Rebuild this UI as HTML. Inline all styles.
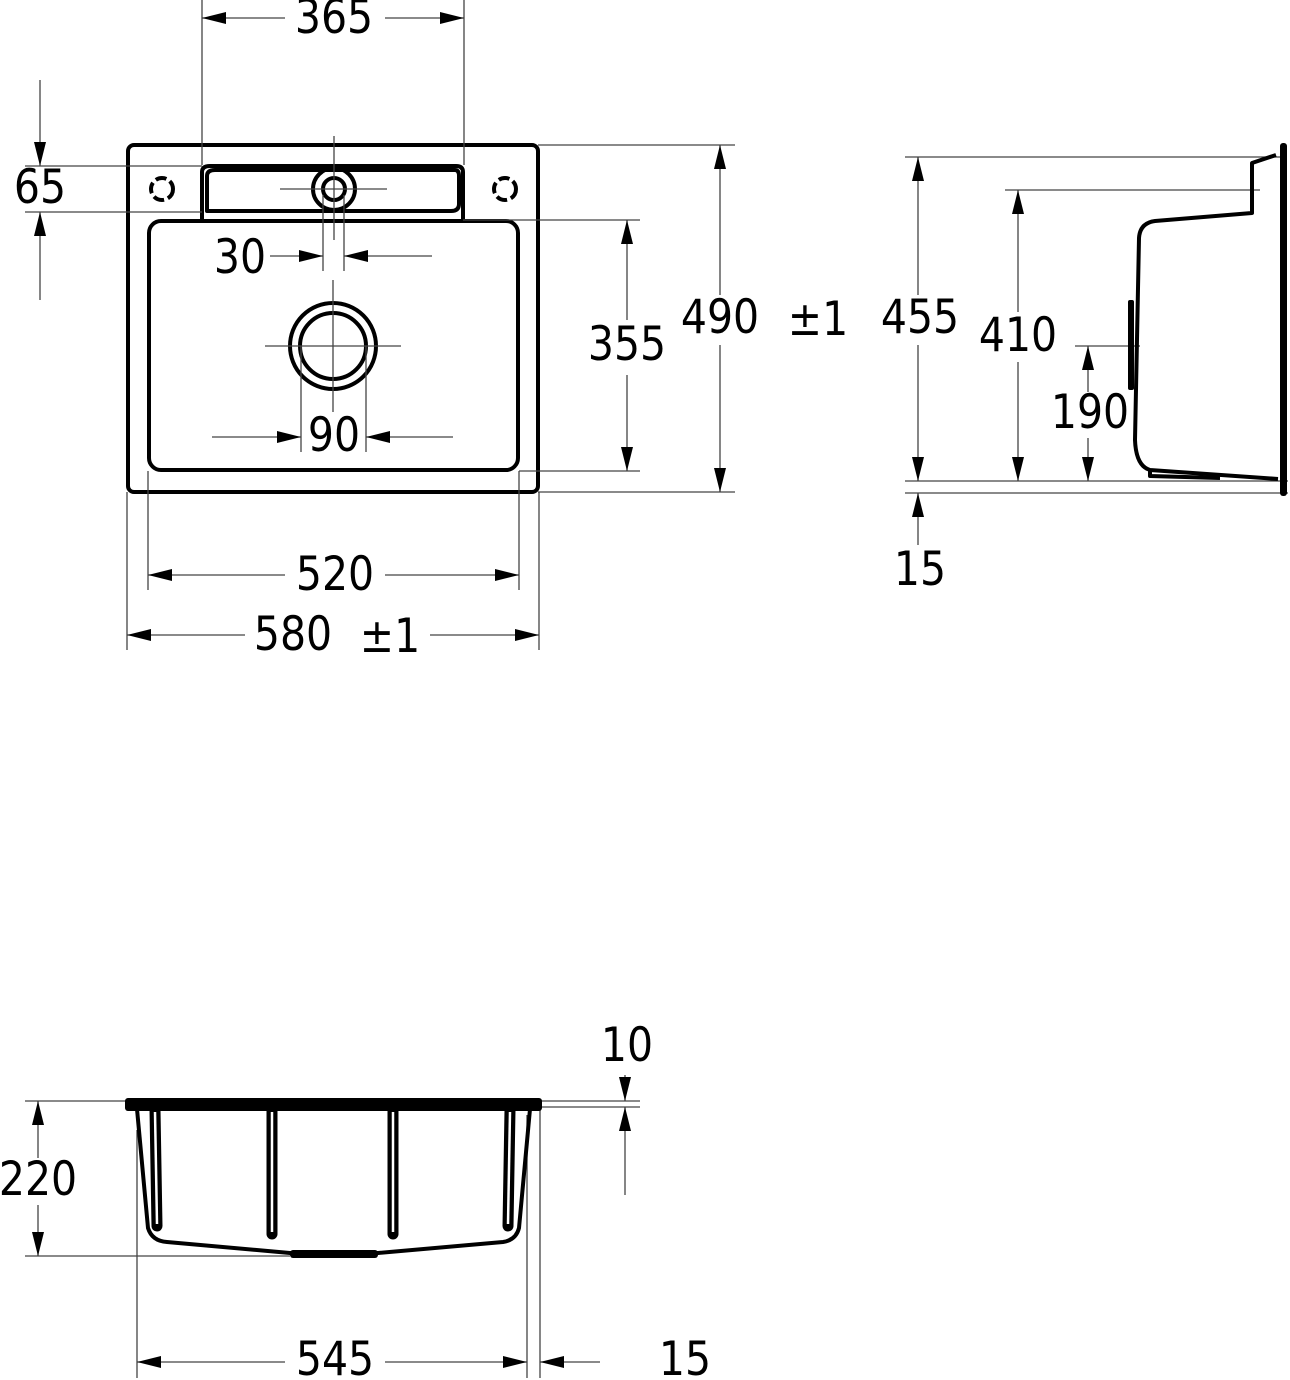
<!DOCTYPE html>
<html><head><meta charset="utf-8"><style>
html,body{margin:0;padding:0;background:#fff;}
svg{display:block}
text{font-family:"DejaVu Sans","Liberation Sans",sans-serif;font-size:41px;fill:#000;text-anchor:middle;dominant-baseline:middle;transform-box:fill-box;transform-origin:center;transform:scaleY(1.16)}
.d{stroke:#444;stroke-width:1.3;fill:none}
.o{stroke:#000;stroke-width:4;fill:none;stroke-linejoin:round}
</style></head><body>
<svg width="1290" height="1380" viewBox="0 0 1290 1380" xmlns="http://www.w3.org/2000/svg">
<defs>
<marker id="a" viewBox="0 0 24 12" refX="24" refY="6" markerWidth="24" markerHeight="12" markerUnits="userSpaceOnUse" orient="auto"><path d="M0,0L24,6L0,12z" fill="#000"/></marker>
</defs>
<!-- TOP VIEW -->
<rect x="128" y="145" width="410" height="347" rx="6" class="o"/>
<path d="M202,222 V172 Q202,166 210,166 H456 Q463,166 463,172 V222" class="o"/>
<path d="M207,211 V176 Q207,170 215,170 H455 Q459,170 459,176 V204 Q459,211 451,211 Z" class="o" stroke-width="3.5"/>
<rect x="149" y="221" width="369" height="249" rx="12" class="o"/>
<circle cx="334" cy="189" r="21" class="o" fill="#fff"/>
<circle cx="334" cy="189" r="11" class="o" stroke-width="3"/>
<circle cx="162" cy="189" r="11" class="o" stroke-width="4.5" stroke-dasharray="11 4"/>
<circle cx="505" cy="189" r="11" class="o" stroke-width="4.5" stroke-dasharray="11 4"/>
<circle cx="333" cy="346" r="43" class="o"/>
<circle cx="333" cy="346" r="33" class="o"/>
<g class="d">
<line x1="334" y1="136" x2="334" y2="240"/><line x1="280" y1="189" x2="387" y2="189"/>
<line x1="333" y1="280" x2="333" y2="412"/><line x1="265" y1="346" x2="401" y2="346"/>
<line x1="202" y1="0" x2="202" y2="165"/><line x1="464" y1="0" x2="464" y2="165"/>
<line x1="285" y1="18" x2="202" y2="18" marker-end="url(#a)"/><line x1="385" y1="18" x2="464" y2="18" marker-end="url(#a)"/>
<line x1="40" y1="80" x2="40" y2="166" marker-end="url(#a)"/><line x1="40" y1="300" x2="40" y2="212" marker-end="url(#a)"/>
<line x1="25" y1="166" x2="202" y2="166"/><line x1="25" y1="212" x2="202" y2="212"/>
<line x1="323" y1="195" x2="323" y2="271"/><line x1="344" y1="195" x2="344" y2="271"/>
<line x1="270" y1="256" x2="323" y2="256" marker-end="url(#a)"/><line x1="432" y1="256" x2="344" y2="256" marker-end="url(#a)"/>
<line x1="301" y1="346" x2="301" y2="452"/><line x1="366" y1="346" x2="366" y2="452"/>
<line x1="212" y1="437" x2="301" y2="437" marker-end="url(#a)"/><line x1="453" y1="437" x2="366" y2="437" marker-end="url(#a)"/>
<line x1="463" y1="220" x2="640" y2="220"/><line x1="519" y1="471" x2="640" y2="471"/>
<line x1="627" y1="320" x2="627" y2="220" marker-end="url(#a)"/><line x1="627" y1="375" x2="627" y2="471" marker-end="url(#a)"/>
<line x1="538" y1="145" x2="735" y2="145"/><line x1="538" y1="492" x2="735" y2="492"/>
<line x1="720" y1="295" x2="720" y2="145" marker-end="url(#a)"/><line x1="720" y1="345" x2="720" y2="492" marker-end="url(#a)"/>
<line x1="148" y1="471" x2="148" y2="590"/><line x1="519" y1="471" x2="519" y2="590"/>
<line x1="285" y1="575" x2="148" y2="575" marker-end="url(#a)"/><line x1="385" y1="575" x2="519" y2="575" marker-end="url(#a)"/>
<line x1="127" y1="492" x2="127" y2="650"/><line x1="539" y1="492" x2="539" y2="650"/>
<line x1="245" y1="635" x2="127" y2="635" marker-end="url(#a)"/><line x1="430" y1="635" x2="539" y2="635" marker-end="url(#a)"/>
</g>
<text x="334" y="20">365</text>
<text x="40" y="190">65</text>
<text x="240" y="260">30</text>
<text x="334" y="438">90</text>
<text x="627" y="347">355</text>
<text x="720" y="320">490</text>
<text x="818" y="322" font-size="34">±1</text>
<text x="335" y="577">520</text>
<text x="293" y="637">580</text>
<text x="390" y="639" font-size="34">±1</text>
<!-- SIDE VIEW -->
<g class="d">
<line x1="905" y1="157" x2="1280" y2="157"/><line x1="1005" y1="190" x2="1260" y2="190"/>
<line x1="1075" y1="346" x2="1140" y2="346"/>
<line x1="905" y1="481" x2="1288" y2="481"/><line x1="905" y1="493" x2="1288" y2="493"/>
<line x1="918" y1="295" x2="918" y2="157" marker-end="url(#a)"/><line x1="918" y1="345" x2="918" y2="481" marker-end="url(#a)"/>
<line x1="918" y1="545" x2="918" y2="493" marker-end="url(#a)"/>
<line x1="1018" y1="312" x2="1018" y2="190" marker-end="url(#a)"/><line x1="1018" y1="362" x2="1018" y2="481" marker-end="url(#a)"/>
<line x1="1088" y1="392" x2="1088" y2="346" marker-end="url(#a)"/><line x1="1088" y1="438" x2="1088" y2="481" marker-end="url(#a)"/>
</g>
<rect x="1280" y="143" width="7" height="353" rx="3" fill="#000"/>
<path d="M1276,155 L1252,163 V213 L1155,221 Q1140,223 1139,238 L1135,440 Q1136,466 1150,470 L1278,479" class="o" stroke-width="4.5"/>
<path d="M1150,470 L1150,476 L1220,478" class="o" stroke-width="3"/>
<rect x="1128" y="300" width="6" height="90" rx="2" fill="#000"/>
<text x="920" y="320">455</text>
<text x="1018" y="338">410</text>
<text x="1090" y="415">190</text>
<text x="920" y="572">15</text>
<!-- BOTTOM VIEW -->
<g class="d">
<line x1="25" y1="1101" x2="130" y2="1101"/><line x1="25" y1="1256" x2="290" y2="1256"/>
<line x1="38" y1="1158" x2="38" y2="1101" marker-end="url(#a)"/><line x1="38" y1="1205" x2="38" y2="1256" marker-end="url(#a)"/>
<line x1="540" y1="1101" x2="640" y2="1101"/><line x1="540" y1="1107" x2="640" y2="1107"/>
<line x1="625" y1="1075" x2="625" y2="1101" marker-end="url(#a)"/><line x1="625" y1="1195" x2="625" y2="1107" marker-end="url(#a)"/>
<line x1="137" y1="1130" x2="137" y2="1378"/><line x1="527" y1="1115" x2="527" y2="1378"/><line x1="540" y1="1101" x2="540" y2="1378"/>
<line x1="285" y1="1362" x2="137" y2="1362" marker-end="url(#a)"/><line x1="385" y1="1362" x2="527" y2="1362" marker-end="url(#a)"/>
<line x1="600" y1="1362" x2="540" y2="1362" marker-end="url(#a)"/>
</g>
<rect x="125" y="1098" width="417" height="13" rx="3" fill="#000"/>
<path d="M137,1109 L148,1228 Q152,1241 167,1242 L290,1253 H378 L503,1242 Q516,1240 519,1228 L530,1109" class="o" stroke-width="4.5"/>
<rect x="290" y="1250" width="88" height="8" rx="3" fill="#000"/>
<g stroke="#000" stroke-width="11" stroke-linecap="round"><line x1="155" y1="1110" x2="157" y2="1226"/><line x1="272" y1="1110" x2="272" y2="1234"/><line x1="393" y1="1110" x2="393" y2="1234"/><line x1="510" y1="1110" x2="508" y2="1226"/></g>
<g stroke="#fff" stroke-width="2.5"><line x1="155" y1="1112" x2="157" y2="1224"/><line x1="272" y1="1112" x2="272" y2="1232"/><line x1="393" y1="1112" x2="393" y2="1232"/><line x1="510" y1="1112" x2="508" y2="1224"/></g>
<text x="38" y="1182">220</text>
<text x="627" y="1048">10</text>
<text x="335" y="1362">545</text>
<text x="685" y="1362">15</text>
</svg>
</body></html>
